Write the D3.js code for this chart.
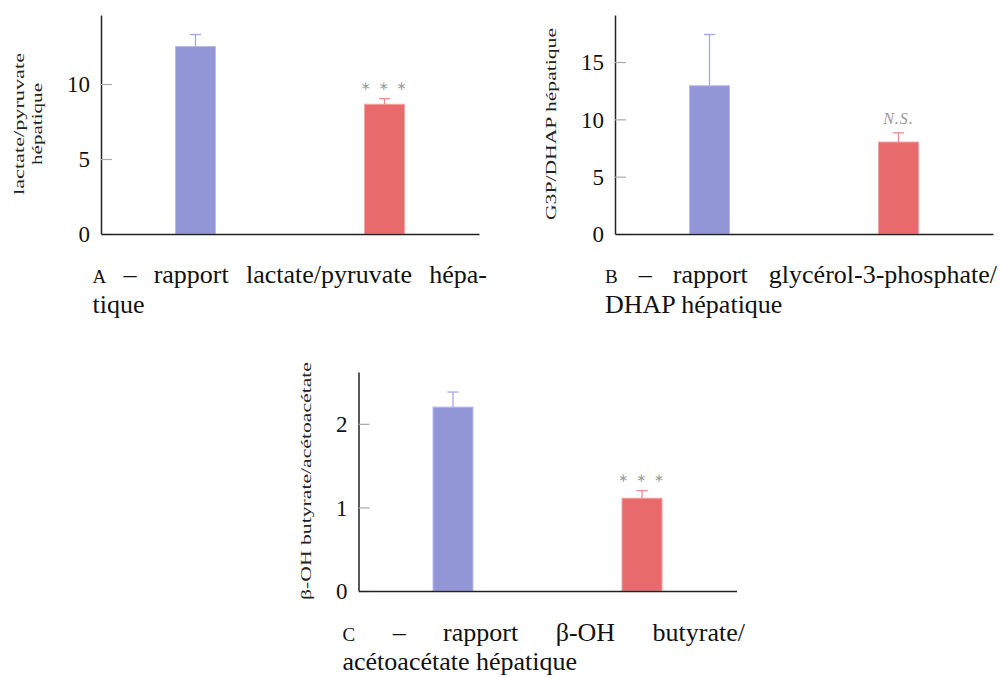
<!DOCTYPE html>
<html>
  <head>
    <meta charset="UTF-8">
    <title>Rapports hépatiques</title>
    <script src="https://d3js.org/d3.v7.min.js"></script>
    <style>
      body { margin: 0; background-color: white; }
      svg text { font-family: "Liberation Serif", "Times New Roman", serif; fill: #111; }
      .tick line { stroke: #aaa; stroke-width: 1.2; }
      .domain { stroke: #222; stroke-width: 1.5; }
    </style>
  </head>
  <body>
    <svg id="chart" width="1001" height="677"></svg>
    <script>
// two groups per panel, no x labels in the figure
const groups = ['témoin', 'traité'];

const meansA = [12.5, 8.65];
const errA = [0.8, 0.37];
const ticksA = [0, 5, 10];
const ymaxA = 14.6;

const meansB = [12.93, 8.02];
const errB = [4.47, 0.8];
const ticksB = [0, 5, 10, 15];
const ymaxB = 19.1;

const meansC = [2.2, 1.11];
const errC = [0.18, 0.09];
const ticksC = [0, 1, 2];
const ymaxC = 2.62;

const signifA = '∗ ∗ ∗';
const signifB = 'N.S.';
const signifC = '∗ ∗ ∗';

const yLabelA = ['lactate/pyruvate', 'hépatique'];
const yLabelB = ['G3P/DHAP hépatique'];
const yLabelC = ['β-OH butyrate/acétoacétate'];

const captionA = [['A', '–', 'rapport', 'lactate/pyruvate', 'hépa-'], ['tique']];
const captionB = [['B', '–', 'rapport', 'glycérol-3-phosphate/'], ['DHAP hépatique']];
const captionC = [['C', '–', 'rapport', 'β-OH', 'butyrate/'], ['acétoacétate hépatique']];

const colors = ['#9396d6', '#e86a6c'];
const strokes = ['#b9bbef', '#f4a2a3'];
const errColors = ['#a4a6e6', '#ee8a8c'];

const W = 378, H = 219, barW = 40;

const svg = d3.select('#chart');

function drawPanel(left, top, means, errs, ticks, ymax, signif, signifItalic) {
  const g = svg.append('g').attr('transform', `translate(${left}, ${top})`);
  const x = d3.scalePoint().domain(groups).range([0, W]).padding(0.5);
  const y = d3.scaleLinear().domain([0, ymax]).range([H, 0]);

  const yAxis = g.append('g')
    .call(d3.axisLeft(y).tickValues(ticks).tickFormat(d3.format('d'))
      .tickSize(-11).tickSizeOuter(0).tickPadding(11));
  yAxis.selectAll('text')
    .attr('font-size', 23)
    .attr('dy', '0.34em');

  g.selectAll('.bar')
    .data(means)
    .enter()
    .append('rect')
    .attr('class', 'bar')
    .attr('x', (d, i) => x(groups[i]) - barW / 2)
    .attr('y', d => y(d))
    .attr('width', barW)
    .attr('height', d => H - y(d))
    .attr('fill', (d, i) => colors[i])
    .attr('stroke', (d, i) => strokes[i])
    .attr('stroke-width', 1);

  const err = g.selectAll('.err')
    .data(means)
    .enter()
    .append('g')
    .attr('class', 'err')
    .attr('stroke', (d, i) => errColors[i])
    .attr('stroke-width', 1.3);
  err.append('line')
    .attr('x1', (d, i) => x(groups[i]))
    .attr('x2', (d, i) => x(groups[i]))
    .attr('y1', d => y(d))
    .attr('y2', (d, i) => y(d + errs[i]));
  err.append('line')
    .attr('x1', (d, i) => x(groups[i]) - 5.5)
    .attr('x2', (d, i) => x(groups[i]) + 5.5)
    .attr('y1', (d, i) => y(d + errs[i]))
    .attr('y2', (d, i) => y(d + errs[i]));

  g.append('g')
    .attr('transform', `translate(0, ${H})`)
    .call(d3.axisBottom(x).tickValues([]).tickSizeOuter(0))
    .select('.domain').attr('stroke', '#333');

  const s = g.append('text')
    .attr('x', x(groups[1]))
    .attr('y', y(means[1] + errs[1]) - 14)
    .attr('text-anchor', 'middle')
    .attr('dy', signifItalic ? '0.35em' : '0.45em')
    .style('fill', '#999')
    .text(signif);
  if (signifItalic) {
    s.attr('font-style', 'italic').attr('font-size', 16).attr('letter-spacing', 1);
  } else {
    s.style('font-family', '"DejaVu Sans", sans-serif').attr('font-size', 12).attr('letter-spacing', 2);
  }
}

function drawYLabel(lines, xs, cy, lengths) {
  lines.forEach((line, i) => {
    svg.append('text')
      .attr('transform', `translate(${xs[i]}, ${cy}) rotate(-90)`)
      .attr('text-anchor', 'middle')
      .attr('font-size', 15)
      .attr('textLength', lengths[i])
      .attr('lengthAdjust', 'spacingAndGlyphs')
      .style('fill', '#222')
      .text(line);
  });
}

function drawCaption(lines, left, right, baselines) {
  // first line is justified, the last one is left aligned
  const words = lines[0];
  const nodes = words.map((w, i) => {
    const t = svg.append('text')
      .attr('y', baselines[0])
      .attr('font-size', i == 0 ? 19 : 26)
      .text(w);
    return t;
  });
  const widths = nodes.map(n => n.node().getComputedTextLength());
  const gap = (right - left - d3.sum(widths)) / (words.length - 1);
  let cx = left;
  nodes.forEach((n, i) => {
    n.attr('x', cx);
    cx += widths[i] + gap;
  });
  svg.append('text')
    .attr('x', left)
    .attr('y', baselines[1])
    .attr('font-size', 26)
    .text(lines[1][0]);
}

drawPanel(101, 15, meansA, errA, ticksA, ymaxA, signifA, false);
drawPanel(615, 15, meansB, errB, ticksB, ymaxB, signifB, true);
drawPanel(358.5, 372, meansC, errC, ticksC, ymaxC, signifC, false);

drawYLabel(yLabelA, [24, 42], 124, [142, 82]);
drawYLabel(yLabelB, [556], 124, [192]);
drawYLabel(yLabelC, [311], 481, [238]);

drawCaption(captionA, 92.5, 487, [283, 313]);
drawCaption(captionB, 605, 997, [283, 313]);
drawCaption(captionC, 342.5, 745, [641, 670]);
    </script>
  </body>
</html>
